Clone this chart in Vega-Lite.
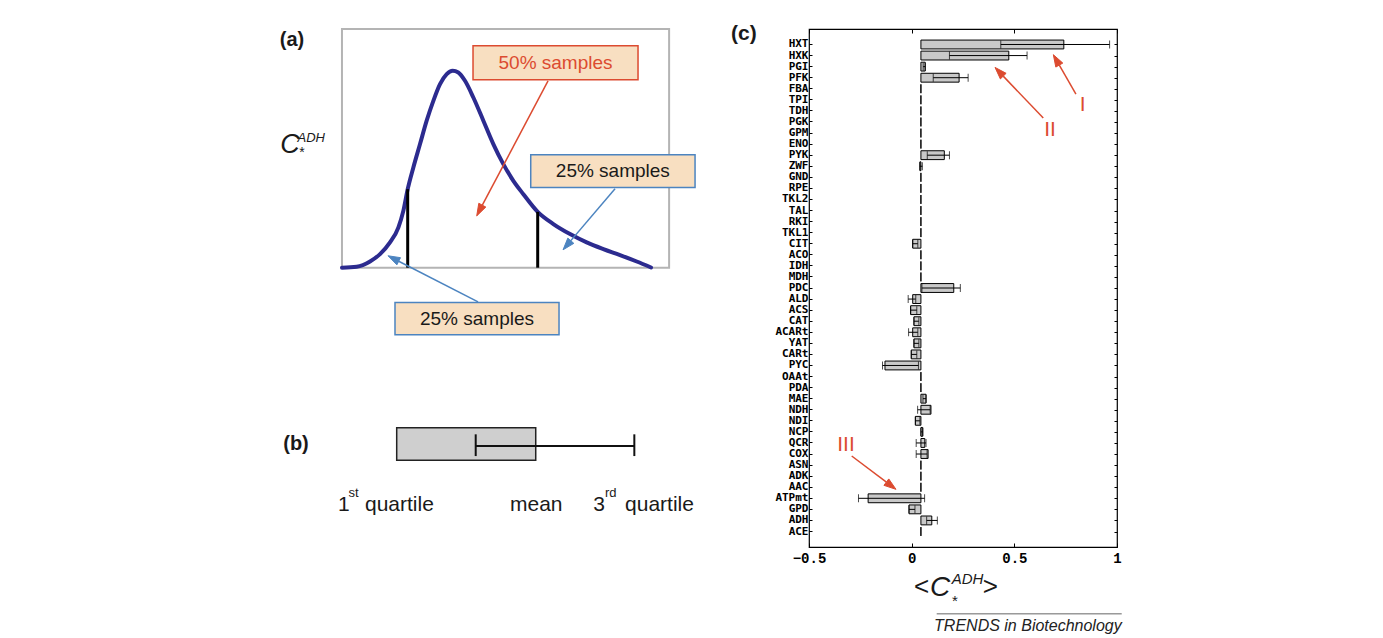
{
  "$schema": "https://vega.github.io/schema/vega-lite/v6.json",
  "background": "white",
  "padding": {"left": 270, "top": 22, "right": 10, "bottom": 5},
  "bounds": "flush",
  "spacing": 99,
  "config": {"view": {"stroke": null}, "axis": {"grid": false}, "text": {"font": "Liberation Sans"}},
  "hconcat": [
    {
      "width": 440,
      "height": 518,
      "view": {"stroke": null},
      "encoding": {
        "x": {"field": "x", "type": "quantitative", "scale": {"domain": [-2.2, 11.25], "nice": false, "zero": false}, "axis": null},
        "y": {"field": "y", "type": "quantitative", "scale": {"domain": [-1.17, 1], "nice": false, "zero": false}, "axis": null}
      },
      "layer": [
        {
          "data": {"values": [{"x": 0, "x2": 10, "y": 0, "y2": 1}]},
          "mark": {"type": "rect", "fill": "white", "fillOpacity": 0, "stroke": "#B4B4B4", "strokeWidth": 2},
          "encoding": {"x2": {"field": "x2"}, "y2": {"field": "y2"}}
        },
        {
          "data": {"values": [
            {"x": 0, "y": 0}, {"x": 0.449, "y": 0.004}, {"x": 0.857, "y": 0.026}, {"x": 1.163, "y": 0.057},
            {"x": 1.468, "y": 0.106}, {"x": 1.723, "y": 0.168}, {"x": 1.876, "y": 0.238}, {"x": 2.009, "y": 0.329},
            {"x": 2.182, "y": 0.42}, {"x": 2.386, "y": 0.518}, {"x": 2.589, "y": 0.616}, {"x": 2.793, "y": 0.699},
            {"x": 2.997, "y": 0.769}, {"x": 3.201, "y": 0.811}, {"x": 3.384, "y": 0.825}, {"x": 3.557, "y": 0.818},
            {"x": 3.761, "y": 0.783}, {"x": 4.016, "y": 0.713}, {"x": 4.322, "y": 0.616}, {"x": 4.627, "y": 0.518},
            {"x": 4.933, "y": 0.434}, {"x": 5.239, "y": 0.364}, {"x": 5.545, "y": 0.308}, {"x": 5.983, "y": 0.234},
            {"x": 6.462, "y": 0.183}, {"x": 6.972, "y": 0.141}, {"x": 7.481, "y": 0.106}, {"x": 7.99, "y": 0.078},
            {"x": 8.5, "y": 0.053}, {"x": 9.01, "y": 0.026}, {"x": 9.448, "y": 0.001}
          ]},
          "mark": {"type": "line", "stroke": "#2C2B8F", "strokeWidth": 4, "interpolate": "monotone", "strokeCap": "round"}
        },
        {
          "data": {"values": [{"x": 2.009, "y": 0.329}, {"x": 5.983, "y": 0.234}]},
          "mark": {"type": "rule", "color": "black", "strokeWidth": 3},
          "encoding": {"y2": {"datum": 0}}
        },
        {
          "data": {"values": [{"x": 1.673, "x2": 5.923, "y": -0.67, "y2": -0.807}]},
          "mark": {"type": "rect", "fill": "#CFCFCF", "stroke": "#222222", "strokeWidth": 1.5},
          "encoding": {"x2": {"field": "x2"}, "y2": {"field": "y2"}}
        },
        {
          "data": {"values": [{"x": 4.088, "x2": 8.937, "y": -0.7467}]},
          "mark": {"type": "rule", "color": "#111111", "strokeWidth": 2},
          "encoding": {"x2": {"field": "x2"}}
        },
        {
          "data": {"values": [{"x": 4.088, "y": -0.698, "y2": -0.789}, {"x": 8.937, "y": -0.698, "y2": -0.789}]},
          "mark": {"type": "rule", "color": "#111111", "strokeWidth": 2},
          "encoding": {"y2": {"field": "y2"}}
        },
        {
          "data": {"values": [
            {"kind": "red", "x": 4.006, "x2": 9.05, "y": 0.93, "y2": 0.7875},
            {"kind": "blue", "x": 5.77, "x2": 10.793, "y": 0.473, "y2": 0.336},
            {"kind": "blue", "x": 1.621, "x2": 6.635, "y": -0.146, "y2": -0.281}
          ]},
          "mark": {"type": "rect", "fill": "#F8DFC1", "strokeWidth": 1.5},
          "encoding": {
            "x2": {"field": "x2"}, "y2": {"field": "y2"},
            "stroke": {"field": "kind", "type": "nominal", "scale": {"domain": ["red", "blue"], "range": ["#DC4B30", "#4C84C0"]}, "legend": null}
          }
        },
        {
          "data": {"values": [
            {"kind": "red", "x": 6.299, "y": 0.783, "x2": 4.29, "y2": 0.262},
            {"kind": "blue", "x": 8.347, "y": 0.331, "x2": 6.996, "y2": 0.1135},
            {"kind": "blue", "x": 4.159, "y": -0.143, "x2": 1.734, "y2": 0.027}
          ]},
          "mark": {"type": "rule", "strokeWidth": 1.5},
          "encoding": {
            "x2": {"field": "x2"}, "y2": {"field": "y2"},
            "color": {"field": "kind", "type": "nominal", "scale": {"domain": ["red", "blue", "ink"], "range": ["#DC4B30", "#4C84C0", "#1A1A1A"]}, "legend": null}
          }
        },
        {
          "data": {"values": [{"seq": 0, "x": 4.119, "y": 0.217}, {"seq": 1, "x": 4.397, "y": 0.254}, {"seq": 2, "x": 4.183, "y": 0.27}]},
          "mark": {"type": "line", "interpolate": "linear-closed", "stroke": "#DC4B30", "fill": "#DC4B30", "strokeWidth": 1},
          "encoding": {"order": {"field": "seq"}}
        },
        {
          "data": {"values": [
            {"id": "b1", "seq": 0, "x": 6.758, "y": 0.075}, {"id": "b1", "seq": 1, "x": 7.087, "y": 0.102}, {"id": "b1", "seq": 2, "x": 6.904, "y": 0.124},
            {"id": "b2", "seq": 0, "x": 1.407, "y": 0.05}, {"id": "b2", "seq": 1, "x": 1.789, "y": 0.042}, {"id": "b2", "seq": 2, "x": 1.679, "y": 0.012}
          ]},
          "mark": {"type": "line", "interpolate": "linear-closed", "stroke": "#4C84C0", "fill": "#4C84C0", "strokeWidth": 1},
          "encoding": {"order": {"field": "seq"}, "detail": {"field": "id"}}
        },
        {
          "data": {"values": [
            {"t": "50% samples", "kind": "red", "x": 6.528, "y": 0.859},
            {"t": "25% samples", "kind": "ink", "x": 8.28, "y": 0.405},
            {"t": "25% samples", "kind": "ink", "x": 4.128, "y": -0.214}
          ]},
          "mark": {"type": "text", "fontSize": 19, "font": "Liberation Sans", "align": "center", "baseline": "middle"},
          "encoding": {
            "text": {"field": "t"},
            "color": {"field": "kind", "type": "nominal", "scale": {"domain": ["red", "blue", "ink"], "range": ["#DC4B30", "#4C84C0", "#1A1A1A"]}, "legend": null}
          }
        },
        {
          "data": {"values": [{"t": "(a)", "x": -1.528, "y": 0.955}, {"t": "(b)", "x": -1.405, "y": -0.738}]},
          "mark": {"type": "text", "fontSize": 20, "fontWeight": "bold", "font": "Liberation Sans", "align": "center", "baseline": "middle", "color": "#1A1A1A"},
          "encoding": {"text": {"field": "t"}}
        },
        {
          "data": {"values": [{"t": "C", "x": -1.589, "y": 0.482}]},
          "mark": {"type": "text", "fontSize": 27, "fontStyle": "italic", "font": "Liberation Sans", "align": "center", "baseline": "alphabetic", "color": "#1A1A1A"},
          "encoding": {"text": {"field": "t"}}
        },
        {
          "data": {"values": [{"t": "ADH", "x": -1.36, "y": 0.528}]},
          "mark": {"type": "text", "fontSize": 13, "fontStyle": "italic", "font": "Liberation Sans", "align": "left", "baseline": "alphabetic", "color": "#1A1A1A"},
          "encoding": {"text": {"field": "t"}}
        },
        {
          "data": {"values": [{"t": "*", "x": -1.222, "y": 0.465}]},
          "mark": {"type": "text", "fontSize": 14, "font": "Liberation Sans", "align": "center", "baseline": "alphabetic", "color": "#1A1A1A"},
          "encoding": {"text": {"field": "t"}}
        },
        {
          "data": {"values": [
            {"t": "1", "x": -0.121, "y": -1.018}, {"t": "quartile", "x": 0.704, "y": -1.018},
            {"t": "mean", "x": 5.137, "y": -1.018},
            {"t": "3", "x": 7.684, "y": -1.018}, {"t": "quartile", "x": 8.653, "y": -1.018}
          ]},
          "mark": {"type": "text", "fontSize": 21, "font": "Liberation Sans", "align": "left", "baseline": "alphabetic", "color": "#1A1A1A"},
          "encoding": {"text": {"field": "t"}}
        },
        {
          "data": {"values": [{"t": "st", "x": 0.2, "y": -0.959}, {"t": "rd", "x": 8.041, "y": -0.959}]},
          "mark": {"type": "text", "fontSize": 13, "font": "Liberation Sans", "align": "left", "baseline": "alphabetic", "color": "#1A1A1A"},
          "encoding": {"text": {"field": "t"}}
        }
      ]
    },
    {
      "width": 308,
      "height": 518,
      "view": {"stroke": "black", "strokeWidth": 1.2},
      "resolve": {"scale": {"y": "independent"}, "axis": {"x": "independent", "y": "independent"}},
      "layer": [
        {
          "data": {"values": [
            {"name": "HXT", "v": 0.741, "lo": 0.434, "hi": 0.964},
            {"name": "HXK", "v": 0.473, "lo": 0.184, "hi": 0.562},
            {"name": "PGI", "v": 0.066, "lo": 0.056, "hi": 0.066},
            {"name": "PFK", "v": 0.231, "lo": 0.105, "hi": 0.275},
            {"name": "FBA", "v": 0.045},
            {"name": "TPI", "v": 0.045},
            {"name": "TDH", "v": 0.045},
            {"name": "PGK", "v": 0.045},
            {"name": "GPM", "v": 0.045},
            {"name": "ENO", "v": 0.045},
            {"name": "PYK", "v": 0.159, "lo": 0.076, "hi": 0.184},
            {"name": "ZWF", "v": 0.04, "lo": 0.04, "hi": 0.052},
            {"name": "GND", "v": 0.045},
            {"name": "RPE", "v": 0.045},
            {"name": "TKL2", "v": 0.045},
            {"name": "TAL", "v": 0.045},
            {"name": "RKI", "v": 0.045},
            {"name": "TKL1", "v": 0.045},
            {"name": "CIT", "v": 0.005, "lo": 0.005, "hi": 0.03},
            {"name": "ACO", "v": 0.045},
            {"name": "IDH", "v": 0.045},
            {"name": "MDH", "v": 0.045},
            {"name": "PDC", "v": 0.205, "lo": 0.05, "hi": 0.237},
            {"name": "ALD", "v": 0.005, "lo": -0.017, "hi": 0.02},
            {"name": "ACS", "v": -0.005, "lo": -0.005, "hi": 0.025},
            {"name": "CAT", "v": 0.011, "lo": 0.011, "hi": 0.035},
            {"name": "ACARt", "v": 0.005, "lo": -0.015, "hi": 0.03},
            {"name": "YAT", "v": 0.011, "lo": 0.011, "hi": 0.035},
            {"name": "CARt", "v": -0.002, "lo": -0.002, "hi": 0.025},
            {"name": "PYC", "v": -0.13, "lo": -0.142, "hi": 0.033},
            {"name": "OAAt", "v": 0.045},
            {"name": "PDA", "v": 0.045},
            {"name": "MAE", "v": 0.07, "lo": 0.055, "hi": 0.07},
            {"name": "NDH", "v": 0.094, "lo": 0.029, "hi": 0.09},
            {"name": "NDI", "v": 0.018, "lo": 0.018, "hi": 0.04},
            {"name": "NCP", "v": 0.054, "lo": 0.045, "hi": 0.054},
            {"name": "QCR", "v": 0.064, "lo": 0.022, "hi": 0.07},
            {"name": "COX", "v": 0.08, "lo": 0.022, "hi": 0.075},
            {"name": "ASN", "v": 0.045},
            {"name": "ADK", "v": 0.045},
            {"name": "AAC", "v": 0.045},
            {"name": "ATPmt", "v": -0.212, "lo": -0.259, "hi": 0.063},
            {"name": "GPD", "v": -0.013, "lo": -0.013, "hi": 0.016},
            {"name": "ADH", "v": 0.098, "lo": 0.073, "hi": 0.125},
            {"name": "ACE", "v": 0.045}
          ]},
          "encoding": {
            "y": {
              "field": "name", "type": "nominal", "sort": null,
              "scale": {"paddingInner": 0.2, "paddingOuter": 1.0},
              "axis": {"title": null, "tickSize": -3, "bandPosition": 0.5, "domain": false, "labelFont": "DejaVu Sans Mono", "labelFontWeight": "bold", "labelFontSize": 11, "labelColor": "black", "labelPadding": 4, "labelOverlap": false, "tickColor": "black"}
            }
          },
          "layer": [
            {
              "mark": {"type": "rect", "fill": "#C9C9C9", "stroke": "black", "strokeWidth": 1},
              "encoding": {
                "x": {"field": "v", "type": "quantitative", "scale": {"domain": [-0.5, 1], "nice": false, "zero": false},
                      "axis": {"title": null, "values": [-0.5, 0, 0.5, 1], "format": "~g", "tickSize": -4, "domain": false, "labelFont": "Liberation Mono", "labelFontWeight": "bold", "labelFontSize": 14, "labelColor": "black", "labelPadding": 8, "tickColor": "black", "labelFlush": false}},
                "x2": {"datum": 0.045}
              }
            },
            {
              "transform": [{"filter": "isValid(datum.lo)"}],
              "mark": {"type": "rule", "color": "black", "strokeWidth": 1},
              "encoding": {
                "x": {"field": "lo", "type": "quantitative", "scale": {"domain": [-0.5, 1], "nice": false, "zero": false}},
                "x2": {"field": "hi"}
              }
            },
            {
              "transform": [{"filter": "isValid(datum.lo)"}],
              "mark": {"type": "tick", "orient": "vertical", "color": "black", "thickness": 1, "size": 8},
              "encoding": {"x": {"field": "lo", "type": "quantitative", "scale": {"domain": [-0.5, 1], "nice": false, "zero": false}}}
            },
            {
              "transform": [{"filter": "isValid(datum.hi)"}],
              "mark": {"type": "tick", "orient": "vertical", "color": "black", "thickness": 1, "size": 8},
              "encoding": {"x": {"field": "hi", "type": "quantitative", "scale": {"domain": [-0.5, 1], "nice": false, "zero": false}}}
            }
          ]
        },
        {
          "encoding": {
            "x": {"field": "x", "type": "quantitative", "scale": {"domain": [-0.5, 1], "nice": false, "zero": false},
                  "axis": {"orient": "top", "values": [-0.5, 0, 0.5, 1], "labels": false, "tickSize": -4, "domain": false, "title": null, "tickColor": "black"}},
            "y": {"field": "i", "type": "quantitative", "scale": {"domain": [-0.4, 46.4], "reverse": true, "nice": false, "zero": false},
                  "axis": {"orient": "right", "values": [1,2,3,4,5,6,7,8,9,10,11,12,13,14,15,16,17,18,19,20,21,22,23,24,25,26,27,28,29,30,31,32,33,34,35,36,37,38,39,40,41,42,43,44,45], "labels": false, "tickSize": -3, "domain": false, "title": null, "tickColor": "black"}}
          },
          "layer": [
            {
              "data": {"values": [{"t": "(c)", "x": -0.817, "i": 0.024}]},
              "mark": {"type": "text", "fontSize": 21, "fontWeight": "bold", "font": "Liberation Sans", "align": "center", "baseline": "middle", "color": "#1A1A1A"},
              "encoding": {"text": {"field": "t"}}
            },
            {
              "data": {"values": [
                {"x": 0.8, "i": 5.476, "x2": 0.719, "i2": 2.863},
                {"x": 0.641, "i": 7.646, "x2": 0.446, "i2": 3.857},
                {"x": -0.292, "i": 38.18, "x2": -0.123, "i2": 40.54}
              ]},
              "mark": {"type": "rule", "color": "#DC4B30", "strokeWidth": 1.5},
              "encoding": {"x2": {"field": "x2"}, "y2": {"field": "i2"}}
            },
            {
              "data": {"values": [
                {"id": "I", "seq": 0, "x": 0.69, "i": 1.922}, {"id": "I", "seq": 1, "x": 0.736, "i": 2.68}, {"id": "I", "seq": 2, "x": 0.702, "i": 3.04},
                {"id": "II", "seq": 0, "x": 0.406, "i": 3.071}, {"id": "II", "seq": 1, "x": 0.46, "i": 3.604}, {"id": "II", "seq": 2, "x": 0.432, "i": 4.11},
                {"id": "III", "seq": 0, "x": -0.0765, "i": 41.19}, {"id": "III", "seq": 1, "x": -0.135, "i": 40.83}, {"id": "III", "seq": 2, "x": -0.1115, "i": 40.25}
              ]},
              "mark": {"type": "line", "interpolate": "linear-closed", "stroke": "#DC4B30", "fill": "#DC4B30", "strokeWidth": 1},
              "encoding": {"order": {"field": "seq"}, "detail": {"field": "id"}}
            },
            {
              "data": {"values": [
                {"t": "I", "x": 0.833, "i": 6.44},
                {"t": "II", "x": 0.674, "i": 8.73},
                {"t": "III", "x": -0.32, "i": 37.18}
              ]},
              "mark": {"type": "text", "fontSize": 21, "font": "Liberation Sans", "align": "center", "baseline": "middle", "color": "#DC4B30"},
              "encoding": {"text": {"field": "t"}}
            },
            {
              "data": {"values": [{"t": "<", "x": 0.048, "i": 50.75}, {"t": ">", "x": 0.383, "i": 50.75}]},
              "mark": {"type": "text", "fontSize": 26, "font": "Liberation Sans", "align": "center", "baseline": "alphabetic", "color": "#1A1A1A"},
              "encoding": {"text": {"field": "t"}}
            },
            {
              "data": {"values": [{"t": "C", "x": 0.089, "i": 50.84}]},
              "mark": {"type": "text", "fontSize": 28, "fontStyle": "italic", "font": "Liberation Sans", "align": "left", "baseline": "alphabetic", "color": "#1A1A1A"},
              "encoding": {"text": {"field": "t"}}
            },
            {
              "data": {"values": [{"t": "ADH", "x": 0.195, "i": 49.75}]},
              "mark": {"type": "text", "fontSize": 15, "fontStyle": "italic", "font": "Liberation Sans", "align": "left", "baseline": "alphabetic", "color": "#1A1A1A"},
              "encoding": {"text": {"field": "t"}}
            },
            {
              "data": {"values": [{"t": "*", "x": 0.211, "i": 51.7}]},
              "mark": {"type": "text", "fontSize": 15, "font": "Liberation Sans", "align": "center", "baseline": "alphabetic", "color": "#1A1A1A"},
              "encoding": {"text": {"field": "t"}}
            },
            {
              "data": {"values": [{"x": 0.122, "x2": 1.023, "i": 52.44}]},
              "mark": {"type": "rule", "color": "#666666", "strokeWidth": 1},
              "encoding": {"x2": {"field": "x2"}}
            },
            {
              "data": {"values": [{"t": "TRENDS in Biotechnology", "x": 1.023, "i": 53.55}]},
              "mark": {"type": "text", "fontSize": 16, "fontStyle": "italic", "font": "Liberation Sans", "align": "right", "baseline": "middle", "color": "#222222"},
              "encoding": {"text": {"field": "t"}}
            }
          ]
        }
      ]
    }
  ]
}
